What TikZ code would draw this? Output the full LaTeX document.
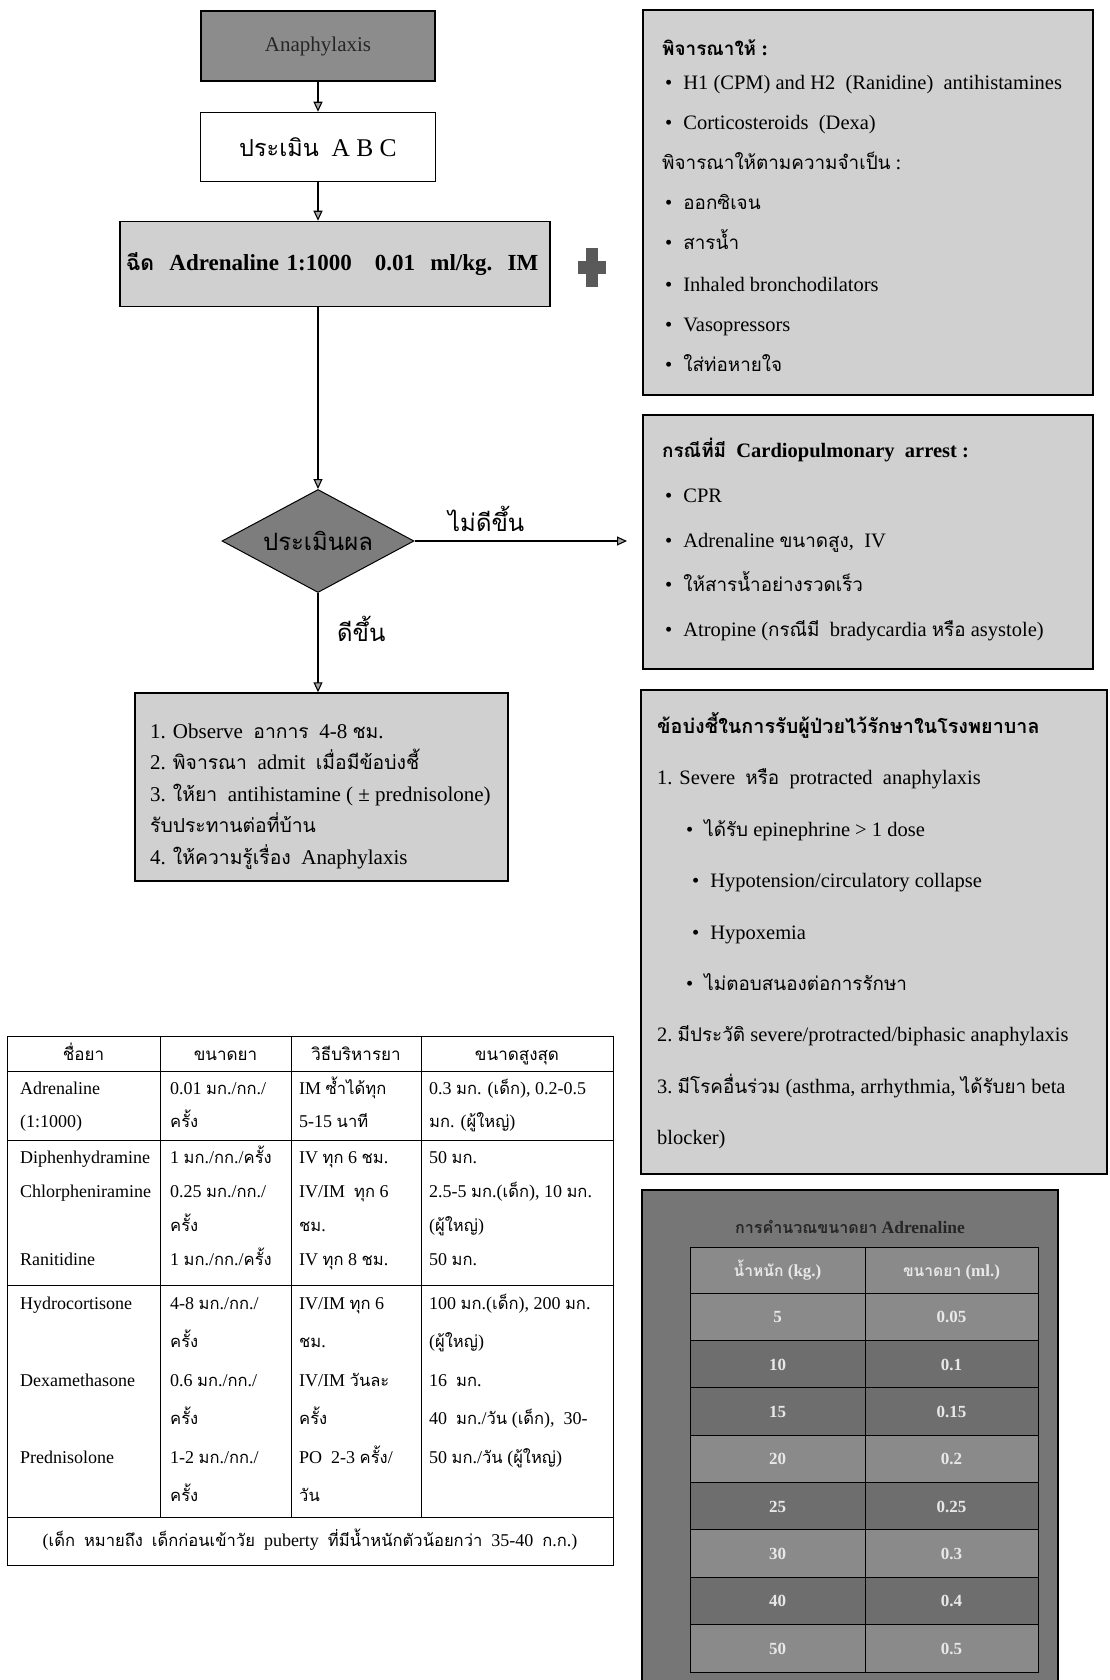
\documentclass[tikz,border=0pt]{standalone}
\usepackage{fontspec}
\setmainfont{Liberation Serif}
\newfontfamily\thaifont[Script=Thai,Scale=0.92]{Loma}
\usetikzlibrary{shapes.geometric,arrows.meta}

% Thai characters are set in Loma, the rest in Liberation Serif
\XeTeXinterchartokenstate=1
\newXeTeXintercharclass\thaiclass
\count255="0E00
\loop\ifnum\count255<"0E80
  \XeTeXcharclass\count255=\thaiclass
  \advance\count255 by 1
\repeat
\XeTeXinterchartoks 0 \thaiclass = {\thaifont}
\XeTeXinterchartoks 4095 \thaiclass = {\thaifont}
\XeTeXinterchartoks \thaiclass 0 = {\rmfamily}
\XeTeXinterchartoks \thaiclass 4095 = {\rmfamily}

\newcommand{\blt}{\textbullet\hskip 11pt}

\definecolor{boxColor}{RGB}{208,208,208}
\definecolor{headColor}{RGB}{140,140,140}
\definecolor{diaColor}{RGB}{125,125,125}
\definecolor{plusColor}{RGB}{90,90,90}
\definecolor{doseColor}{RGB}{118,118,118}
\definecolor{rowLight}{RGB}{138,138,138}
\definecolor{rowDark}{RGB}{110,110,110}
\definecolor{doseText}{RGB}{232,232,232}

\begin{document}
\begin{tikzpicture}[x=1pt,y=-1pt,
  box/.style={draw=black,line width=1.5pt,fill=boxColor,inner sep=0pt},
  line/.style={anchor=base west,inner sep=0pt,font=\fontsize{20.5}{24}\selectfont},
  lineb/.style={line,font=\bfseries\fontsize{20.5}{24}\selectfont},
  cell/.style={anchor=base west,inner sep=0pt,font=\fontsize{18}{21}\selectfont},
  cellh/.style={anchor=base,inner sep=0pt,font=\fontsize{18.5}{21}\selectfont},
  dosev/.style={anchor=base,inner sep=0pt,text=doseText,font=\bfseries\fontsize{17}{20}\selectfont},
  arr/.style={line width=1.1pt,-{Triangle[length=10pt,width=9pt,fill=gray!70]}},
  rule/.style={line width=1pt}]
\path[use as bounding box,fill=white] (0,0) rectangle (1109,1680);

% flow chart
\node[box,fill=headColor,minimum width=234,minimum height=70,text=black!85,
  font=\fontsize{21}{24}\selectfont] (anaph) at (318,46) {Anaphylaxis};
\node[box,fill=white,minimum width=235,minimum height=69,
  font=\fontsize{25.5}{28}\selectfont] (abc) at (318,147) {ประเมิน\ \ A B C};
\node[box,minimum width=430,minimum height=85,text width=418,align=left,
  font=\bfseries\fontsize{23}{26}\selectfont] (adr) at (335,264) {ฉีด\ \ Adrenaline 1:1000\ \ \ 0.01\ \ ml/kg.\ \ IM};
\node[diamond,draw=black,line width=1pt,fill=diaColor,aspect=1.86,inner sep=0pt,
  minimum width=192,minimum height=103,font=\fontsize{26}{28}\selectfont] (dia) at (318,541) {ประเมินผล};
\node[box,minimum width=373,minimum height=188] (obs) at (321.5,787) {};

\node[anchor=base west,inner sep=0pt,font=\fontsize{26}{28}\selectfont] (worse) at (448,531) {ไม่ดีขึ้น};
\node[anchor=base west,inner sep=0pt,font=\fontsize{26}{28}\selectfont] (better) at (337,641) {ดีขึ้น};
\coordinate (worseEnd) at (627,541);

\draw[arr] (anaph) -- (abc);
\draw[arr] (abc.south) -- (abc.south |- adr.north);
\draw[arr] (adr.south -| dia.north) -- (dia.north);
\draw[arr] (dia.east) -- (worseEnd);
\draw[arr] (dia.south) -- (dia.south |- obs.north);

% plus sign
\fill[plusColor] (586,248) rectangle (598,287);
\fill[plusColor] (578,261) rectangle (606,274);

\node[line,font=\fontsize{21}{24}\selectfont] (o1) at (150,738) {1. Observe\ \ อาการ\ \ 4-8 ชม.};
\node[line,font=\fontsize{21}{24}\selectfont] (o2) at (150,769) {2. พิจารณา\ \ admit\ \ เมื่อมีข้อบ่งชี้};
\node[line,font=\fontsize{21}{24}\selectfont] (o3) at (150,801) {3. ให้ยา\ \ antihistamine ( ± prednisolone)};
\node[line,font=\fontsize{21}{24}\selectfont] (o4) at (150,832) {รับประทานต่อที่บ้าน};
\node[line,font=\fontsize{21}{24}\selectfont] (o5) at (150,864) {4. ให้ความรู้เรื่อง\ \ Anaphylaxis};

% right column boxes
\node[box,minimum width=450,minimum height=385] (give) at (868,202.5) {};
\node[lineb] (g1) at (662,56) {พิจารณาให้ :};
\node[line] (g2) at (665,90) {\blt H1 (CPM) and H2\ \ (Ranidine)\ \ antihistamines};
\node[line] (g3) at (665,130) {\blt Corticosteroids\ \ (Dexa)};
\node[line] (g4) at (662,170) {พิจารณาให้ตามความจำเป็น :};
\node[line] (g5) at (665,210) {\blt ออกซิเจน};
\node[line] (g6) at (665,250) {\blt สารน้ำ};
\node[line] (g7) at (665,291) {\blt Inhaled bronchodilators};
\node[line] (g8) at (665,331) {\blt Vasopressors};
\node[line] (g9) at (665,371) {\blt ใส่ท่อหายใจ};

\node[box,minimum width=450,minimum height=254] (arrest) at (868,542) {};
\node[lineb] (c1) at (662,457) {กรณีที่มี\ \ Cardiopulmonary\ \ arrest :};
\node[line] (c2) at (665,502) {\blt CPR};
\node[line] (c3) at (665,547) {\blt Adrenaline ขนาดสูง,\ \ IV};
\node[line] (c4) at (665,591) {\blt ให้สารน้ำอย่างรวดเร็ว};
\node[line] (c5) at (665,636) {\blt Atropine (กรณีมี\ \ bradycardia หรือ asystole)};

\node[box,minimum width=466,minimum height=484] (admit) at (874,932) {};
\node[lineb,font=\bfseries\fontsize{21.5}{24}\selectfont] (a1) at (657,733) {ข้อบ่งชี้ในการรับผู้ป่วยไว้รักษาในโรงพยาบาล};
\node[line] (a2) at (657,784) {1. Severe\ \ หรือ\ \ protracted\ \ anaphylaxis};
\node[line] (a3) at (686,836) {\blt ได้รับ epinephrine > 1 dose};
\node[line] (a4) at (692,887) {\blt Hypotension/circulatory collapse};
\node[line] (a5) at (692,939) {\blt Hypoxemia};
\node[line] (a6) at (686,990) {\blt ไม่ตอบสนองต่อการรักษา};
\node[line] (a7) at (657,1041) {2.\ มีประวัติ severe/protracted/biphasic anaphylaxis};
\node[line] (a8) at (657,1093) {3.\ มีโรคอื่นร่วม (asthma, arrhythmia, ได้รับยา beta};
\node[line] (a9) at (657,1144) {blocker)};

% adrenaline dose by weight
\node[box,fill=doseColor,minimum width=416,minimum height=500] (dose) at (850,1440) {};
\node[anchor=base,inner sep=0pt,text=black!85,font=\bfseries\fontsize{17.5}{20}\selectfont] (dtitle) at (850,1233) {การคำนวณขนาดยา Adrenaline};
\fill[rowLight] (690,1247) rectangle (1038,1293);
\foreach \w/\d/\c [count=\k] in {5/0.05/rowLight,10/0.1/rowDark,15/0.15/rowDark,20/0.2/rowLight,
    25/0.25/rowDark,30/0.3/rowLight,40/0.4/rowDark,50/0.5/rowLight}{
  \fill[\c] (690,{1293+47.375*(\k-1)}) rectangle (1038,{1293+47.375*\k});
  \node[dosev] (w\k) at (777.5,{1293+47.375*(\k-0.5)+6}) {\w};
  \node[dosev] (d\k) at (951.5,{1293+47.375*(\k-0.5)+6}) {\d};
}
\node[dosev] (wh) at (777.5,1276) {น้ำหนัก (kg.)};
\node[dosev] (dh) at (951.5,1276) {ขนาดยา (ml.)};
\draw[rule] (690,1247) rectangle (1038,1672);
\draw[rule] (865,1247) -- (865,1672);
\foreach \k in {0,...,7}
  \draw[rule] (690,{1293+47.375*\k}) -- (1038,{1293+47.375*\k});

% drug table
\draw[rule] (7,1036) rectangle (613,1565);
\foreach \x in {160,291,421}
  \draw[rule] (\x,1036) -- (\x,1517);
\foreach \y in {1071,1140,1285,1517}
  \draw[rule] (7,\y) -- (613,\y);

\node[cellh] (h1) at (83.5,1060) {ชื่อยา};
\node[cellh] (h2) at (225.5,1060) {ขนาดยา};
\node[cellh] (h3) at (356,1060) {วิธีบริหารยา};
\node[cellh] (h4) at (517,1060) {ขนาดสูงสุด};

\node[cell] (n1) at (20,1094) {Adrenaline};
\node[cell] (n2) at (20,1127) {(1:1000)};
\node[cell] (n3) at (20,1163) {Diphenhydramine};
\node[cell] (n4) at (20,1197) {Chlorpheniramine};
\node[cell] (n5) at (20,1265) {Ranitidine};
\node[cell] (n6) at (20,1309) {Hydrocortisone};
\node[cell] (n7) at (20,1386) {Dexamethasone};
\node[cell] (n8) at (20,1463) {Prednisolone};

\node[cell] (q1) at (170,1094) {0.01 มก./กก./};
\node[cell] (q2) at (170,1127) {ครั้ง};
\node[cell] (q3) at (170,1163) {1 มก./กก./ครั้ง};
\node[cell] (q4) at (170,1197) {0.25 มก./กก./};
\node[cell] (q5) at (170,1231) {ครั้ง};
\node[cell] (q6) at (170,1265) {1 มก./กก./ครั้ง};
\node[cell] (q7) at (170,1309) {4-8 มก./กก./};
\node[cell] (q8) at (170,1347) {ครั้ง};
\node[cell] (q9) at (170,1386) {0.6 มก./กก./};
\node[cell] (q10) at (170,1424) {ครั้ง};
\node[cell] (q11) at (170,1463) {1-2 มก./กก./};
\node[cell] (q12) at (170,1501) {ครั้ง};

\node[cell] (r1) at (299,1094) {IM ซ้ำได้ทุก};
\node[cell] (r2) at (299,1127) {5-15 นาที};
\node[cell] (r3) at (299,1163) {IV ทุก 6 ชม.};
\node[cell] (r4) at (299,1197) {IV/IM\ \ ทุก 6};
\node[cell] (r5) at (299,1231) {ชม.};
\node[cell] (r6) at (299,1265) {IV ทุก 8 ชม.};
\node[cell] (r7) at (299,1309) {IV/IM ทุก 6};
\node[cell] (r8) at (299,1347) {ชม.};
\node[cell] (r9) at (299,1386) {IV/IM วันละ};
\node[cell] (r10) at (299,1424) {ครั้ง};
\node[cell] (r11) at (299,1463) {PO\ \ 2-3 ครั้ง/};
\node[cell] (r12) at (299,1501) {วัน};

\node[cell] (m1) at (429,1094) {0.3 มก. (เด็ก), 0.2-0.5};
\node[cell] (m2) at (429,1127) {มก. (ผู้ใหญ่)};
\node[cell] (m3) at (429,1163) {50 มก.};
\node[cell] (m4) at (429,1197) {2.5-5 มก.(เด็ก), 10 มก.};
\node[cell] (m5) at (429,1231) {(ผู้ใหญ่)};
\node[cell] (m6) at (429,1265) {50 มก.};
\node[cell] (m7) at (429,1309) {100 มก.(เด็ก), 200 มก.};
\node[cell] (m8) at (429,1347) {(ผู้ใหญ่)};
\node[cell] (m9) at (429,1386) {16\ \ มก.};
\node[cell] (m10) at (429,1424) {40\ \ มก./วัน (เด็ก),\ \ 30-};
\node[cell] (m11) at (429,1463) {50 มก./วัน (ผู้ใหญ่)};

\node[cell,anchor=base] (note) at (310,1546) {(เด็ก\ \ หมายถึง\ \ เด็กก่อนเข้าวัย\ \ puberty\ \ ที่มีน้ำหนักตัวน้อยกว่า\ \ 35-40\ \ ก.ก.)};
\end{tikzpicture}
\end{document}
